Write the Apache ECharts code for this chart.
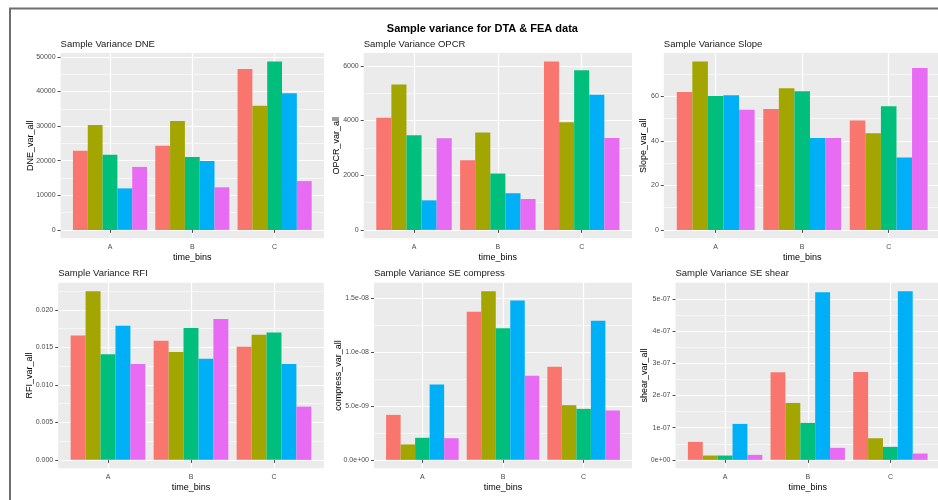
<!DOCTYPE html>
<html>
<head>
<meta charset="utf-8">
<script src="https://cdn.jsdelivr.net/npm/echarts@6/dist/echarts.min.js"></script>
<style>
  html, body { margin: 0; padding: 0; background: #ffffff; }
  #chart { width: 938px; height: 500px; }
</style>
</head>
<body>
<div id="chart"></div>
<script>
// Time bins shown on every panel's x axis
const timeBins = ['A', 'B', 'C'];

// Five fill groups, ggplot's default hue palette
const groupNames = ['Group 1', 'Group 2', 'Group 3', 'Group 4', 'Group 5'];
const groupColors = ['#F8766D', '#A3A500', '#00BF7D', '#00B0F6', '#E76BF3'];

// Sample variance per group (one row per group, values for A, B, C)
const dneVar = [
  [22900, 24300, 46500],
  [30300, 31500, 35900],
  [21700, 21100, 48700],
  [12000, 19900, 39500],
  [18200, 12300, 14100]
];
const opcrVar = [
  [4100, 2550, 6160],
  [5320, 3560, 3940],
  [3460, 2060, 5840],
  [1080, 1340, 4940],
  [3350, 1130, 3360]
];
const slopeVar = [
  [62.0, 54.3, 49.1],
  [75.7, 63.6, 43.4],
  [60.2, 62.3, 55.5],
  [60.5, 41.3, 32.5],
  [54.0, 41.3, 72.8]
];
const rfiVar = [
  [0.0166, 0.0159, 0.0151],
  [0.0225, 0.0144, 0.0167],
  [0.0141, 0.0176, 0.0170],
  [0.0179, 0.0135, 0.0128],
  [0.0128, 0.0188, 0.0071]
];
const compressVar = [
  [4.18e-9, 13.76e-9, 8.65e-9],
  [1.43e-9, 15.68e-9, 5.08e-9],
  [2.05e-9, 12.24e-9, 4.74e-9],
  [7.00e-9, 14.81e-9, 12.92e-9],
  [2.01e-9, 7.81e-9, 4.59e-9]
];
const shearVar = [
  [0.558e-7, 2.717e-7, 2.727e-7],
  [0.134e-7, 1.767e-7, 0.671e-7],
  [0.134e-7, 1.147e-7, 0.403e-7],
  [1.116e-7, 5.207e-7, 5.238e-7],
  [0.155e-7, 0.372e-7, 0.196e-7]
];

// Y tick values per panel
const dneTicks = [0, 10000, 20000, 30000, 40000, 50000];
const opcrTicks = [0, 2000, 4000, 6000];
const slopeTicks = [0, 20, 40, 60];
const rfiTicks = [0, 0.005, 0.010, 0.015, 0.020];
const compressTicks = [0, 5e-9, 1.0e-8, 1.5e-8];
const shearTicks = [0, 1e-7, 2e-7, 3e-7, 4e-7, 5e-7];

// Scientific label in R style: mantissa digits + two-digit exponent
function sciLabel(v, digits) {
  return Number(v).toExponential(digits).replace(/e([+-])(\d)$/, 'e$10$2');
}

const mainTitle = 'Sample variance for DTA & FEA data';
const xTitle = 'time_bins';

// Panel layout: plot rectangle [left, top, width, height], y title gap
const panels = [
  { title: 'Sample Variance DNE', yName: 'DNE_var_all', data: dneVar, ticks: dneTicks,
    fmt: v => String(Math.round(v)), rect: [60.6, 53, 263.4, 185.3], nameGap: 26 },
  { title: 'Sample Variance OPCR', yName: 'OPCR_var_all', data: opcrVar, ticks: opcrTicks,
    fmt: v => String(Math.round(v)), rect: [363.7, 53, 268.3, 185.3], nameGap: 22.5 },
  { title: 'Sample Variance Slope', yName: 'Slope_var_all', data: slopeVar, ticks: slopeTicks,
    fmt: v => String(Math.round(v)), rect: [663.8, 53, 276.8, 185.3], nameGap: 15.3 },
  { title: 'Sample Variance RFI', yName: 'RFI_var_all', data: rfiVar, ticks: rfiTicks,
    fmt: v => Number(v).toFixed(3), rect: [58.2, 282.7, 265.6, 185.6], nameGap: 23.7 },
  { title: 'Sample Variance SE compress', yName: 'compress_var_all', data: compressVar, ticks: compressTicks,
    fmt: v => sciLabel(v, 1), rect: [374, 282.7, 258, 185.6], nameGap: 31.2 },
  { title: 'Sample Variance SE shear', yName: 'shear_var_all', data: shearVar, ticks: shearTicks,
    fmt: v => sciLabel(v, 0), rect: [675.5, 282.7, 264.5, 185.6], nameGap: 26 }
];

const FONT = '"Liberation Sans", Arial, sans-serif';
const grid = [], xAxis = [], yAxis = [], series = [], graphic = [];

// Outer frame line
graphic.push({
  type: 'rect', x: 10, y: 8.5, silent: true,
  shape: { x: 0, y: 0, width: 1000, height: 1000 },
  style: { fill: 'none', stroke: '#6f6f6f', lineWidth: 2 }
});
graphic.push({
  type: 'text', x: 482.4, y: 28.5, silent: true,
  style: { text: mainTitle, fill: '#000', font: 'bold 11px ' + FONT, textAlign: 'center', textVerticalAlign: 'middle' }
});

panels.forEach((p, i) => {
  const [L, T, W, H] = p.rect;
  const band = W / 3.2;
  const peak = Math.max(...p.data.flat());
  const yMin = -0.05 * peak;
  const yMax = 1.05 * peak;
  const step = p.ticks[1] - p.ticks[0];
  const bg = i * 2, dg = i * 2 + 1;

  // Panel background grid carrying the y scale and horizontal grid lines
  grid.push({ left: L, top: T, width: W, height: H, show: true, backgroundColor: '#EBEBEB', borderWidth: 0 });
  // Data grid spanning category A..C centres
  grid.push({ left: L + 0.6 * band, top: T, width: 2 * band, height: H, show: false });

  xAxis.push({ gridIndex: bg, type: 'value', min: 0, max: 1, show: false });
  xAxis.push({
    gridIndex: dg, type: 'category', data: timeBins, boundaryGap: false,
    name: xTitle, nameLocation: 'middle', nameGap: 15, nameMoveOverlap: false,
    nameTextStyle: { fontFamily: FONT, fontSize: 9, color: '#000', verticalAlign: 'top' },
    axisLine: { show: false },
    axisTick: { show: true, length: 3, lineStyle: { color: '#4d4d4d', width: 1 } },
    axisLabel: { margin: 5, fontFamily: FONT, fontSize: 7, color: '#4D4D4D' },
    splitLine: { show: true, lineStyle: { color: '#ffffff', width: 1.2 } }
  });

  yAxis.push({
    gridIndex: bg, type: 'value', min: yMin, max: yMax,
    minInterval: step, maxInterval: step, splitNumber: p.ticks.length - 1,
    name: p.yName, nameLocation: 'middle', nameGap: p.nameGap, nameRotate: 90, nameMoveOverlap: false,
    nameTextStyle: { fontFamily: FONT, fontSize: 9, color: '#000' },
    axisLine: { show: false },
    axisTick: { show: true, length: 3, customValues: p.ticks, lineStyle: { color: '#4d4d4d', width: 1 } },
    axisLabel: { margin: 5, fontFamily: FONT, fontSize: 7, color: '#4D4D4D',
      customValues: p.ticks, formatter: p.fmt, showMinLabel: true, showMaxLabel: true },
    splitLine: { show: true, lineStyle: { color: '#ffffff', width: 1.2 } },
    minorTick: { show: false, splitNumber: 2 },
    minorSplitLine: { show: true, lineStyle: { color: '#ffffff', width: 0.6 } }
  });
  yAxis.push({ gridIndex: dg, type: 'value', min: yMin, max: yMax, show: false, splitLine: { show: false } });

  p.data.forEach((vals, g) => {
    series.push({
      type: 'bar', name: groupNames[g], xAxisIndex: dg, yAxisIndex: dg,
      data: vals, barGap: '0%', barCategoryGap: '10%', clip: false,
      itemStyle: { color: groupColors[g] }, silent: true
    });
  });

  graphic.push({
    type: 'text', x: L, y: T - 9, silent: true,
    style: { text: p.title, fill: '#1a1a1a', font: '9.5px ' + FONT, textAlign: 'left', textVerticalAlign: 'middle' }
  });
});

const chart = echarts.init(document.getElementById('chart'), null, { renderer: 'canvas' });
chart.setOption({
  animation: false,
  backgroundColor: '#ffffff',
  grid, xAxis, yAxis, series, graphic
});
</script>
</body>
</html>
